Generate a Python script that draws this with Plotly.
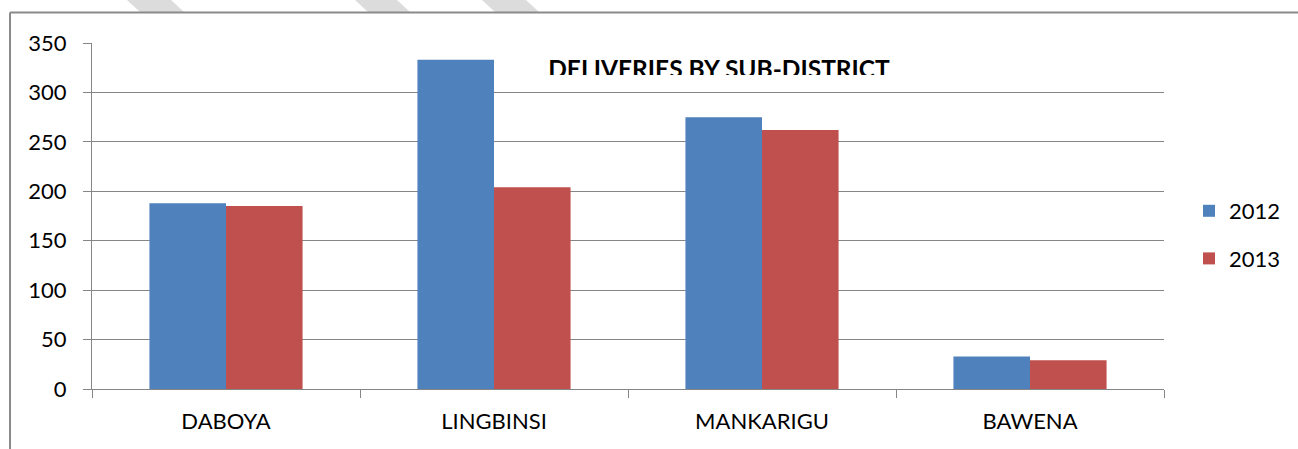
import plotly.graph_objects as go

categories = ["DABOYA", "LINGBINSI", "MANKARIGU", "BAWENA"]
series_names = ["2012", "2013"]
values_2012 = [188, 333, 275, 33]
values_2013 = [185, 204, 262, 29]
y_ticks = [0, 50, 100, 150, 200, 250, 300, 350]
title_text = "DELIVERIES BY SUB-DISTRICT"

W, H = 1298, 449
L, R, T, B = 92, 134, 43, 60
PW = W - L - R
PH = H - T - B


def px(x):
    return (x - L) / PW


def py(y):
    return (H - B - y) / PH


FONT = "Lato"
GRID = "#868686"

fig = go.Figure()
fig.add_trace(go.Bar(x=categories, y=values_2012, name=series_names[0],
                     marker=dict(color="#4F81BD", line=dict(width=0)),
                     legendgroup="a"))
fig.add_trace(go.Bar(x=categories, y=values_2013, name=series_names[1],
                     marker=dict(color="#C0504D", line=dict(width=0)),
                     legendgroup="b"))

# title drawn as clipped text in a thin overlay strip
clip_bottom_px = 75
fig.add_trace(go.Scatter(x=[px(719)], y=[(clip_bottom_px - 71.6) / (clip_bottom_px - T)],
                         mode="text", text=["<b>" + title_text + "</b>"],
                         textfont=dict(family=FONT, size=24.5, color="#000000"),
                         textposition="middle center",
                         xaxis="x2", yaxis="y2", cliponaxis=True,
                         showlegend=False, hoverinfo="skip"))

shapes = []
# page decoration (dashed diagonal band at top)
for x0, x1 in [(127, 171), (355, 397), (482, 526)]:
    pts = [(x0, 0), (x1, 0), (x1 + 13, 12), (x0 + 13, 12)]
    path = "M " + " L ".join(f"{px(a):.5f},{py(b):.5f}" for a, b in pts) + " Z"
    shapes.append(dict(type="path", path=path, xref="paper", yref="paper",
                       fillcolor="#DCDCDC", line=dict(width=0), layer="below"))
# chart frame (top and left edges)
shapes.append(dict(type="line", xref="paper", yref="paper",
                   x0=px(10), x1=px(W + 2), y0=py(12.5), y1=py(12.5),
                   line=dict(color="#8A8A8A", width=2)))
shapes.append(dict(type="line", xref="paper", yref="paper",
                   x0=px(10), x1=px(10), y0=py(12.5), y1=py(H + 2),
                   line=dict(color="#8A8A8A", width=2)))

fig.update_layout(
    width=W, height=H,
    margin=dict(l=L, r=R, t=T, b=B, pad=0),
    paper_bgcolor="white", plot_bgcolor="rgba(0,0,0,0)",
    barmode="group", bargap=1.5 / 3.5, bargroupgap=0,
    font=dict(family=FONT, size=22, color="#000000"),
    showlegend=True,
    legend=dict(x=px(1229 - 40), xanchor="left", y=py(190), yanchor="top",
                font=dict(family=FONT, size=22, color="#000000"),
                bgcolor="rgba(0,0,0,0)", borderwidth=0,
                traceorder="grouped", tracegroupgap=16),
    xaxis=dict(type="category", showgrid=False, showline=True, linecolor=GRID,
               linewidth=1, ticks="outside", tickson="boundaries", ticklen=8,
               tickcolor=GRID, tickwidth=1, ticklabelstandoff=13,
               tickfont=dict(family=FONT, size=22), zeroline=False,
               fixedrange=True),
    yaxis=dict(range=[0, 350], tickvals=y_ticks, showgrid=True, gridcolor=GRID,
               gridwidth=1, showline=True, linecolor=GRID, linewidth=1,
               ticks="outside", ticklen=8, tickcolor=GRID, tickwidth=1,
               ticklabelstandoff=12, tickfont=dict(family=FONT, size=22),
               zeroline=False, fixedrange=True),
    xaxis2=dict(domain=[0, 1], range=[0, 1], anchor="y2", visible=False,
                fixedrange=True),
    yaxis2=dict(domain=[py(clip_bottom_px), 1], range=[0, 1], anchor="x2",
                visible=False, fixedrange=True),
    shapes=shapes,
)

fig.write_html("out.html", config={"displayModeBar": False},
               post_script="document.body.style.margin='0';document.body.style.overflow='hidden';")
